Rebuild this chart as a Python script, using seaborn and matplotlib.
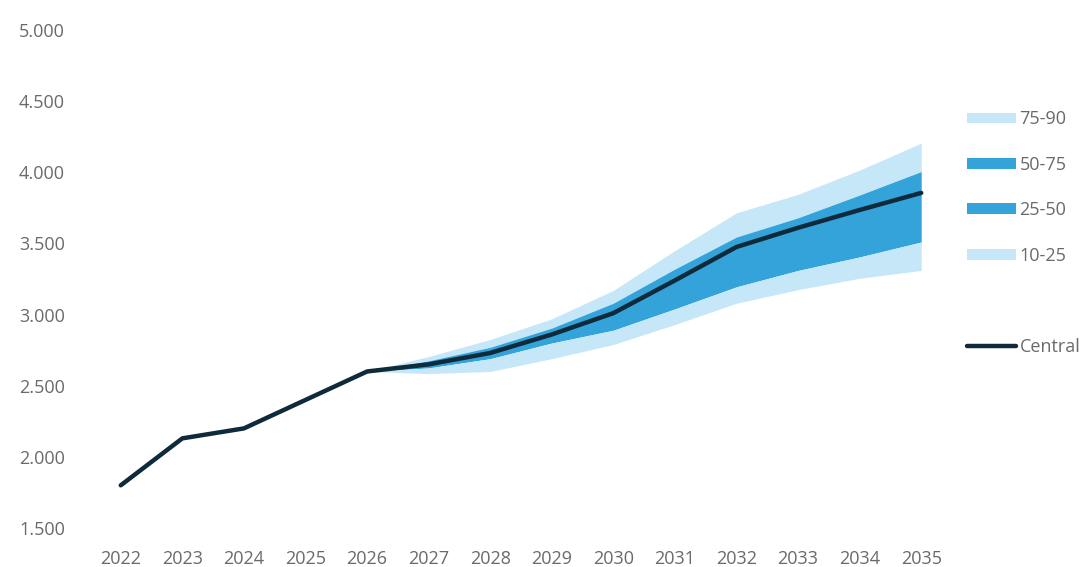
import matplotlib

matplotlib.use("Agg")

import numpy as np
import pandas as pd
import matplotlib.pyplot as plt
import seaborn as sns
from matplotlib.patches import Patch
from matplotlib.lines import Line2D

# ------------------------------------------------------------------
# Data
# ------------------------------------------------------------------
years = [2022, 2023, 2024, 2025, 2026, 2027, 2028,
         2029, 2030, 2031, 2032, 2033, 2034, 2035]
central = [1800, 2130, 2200, 2400, 2600, 2650, 2730,
           2860, 3010, 3240, 3475, 3610, 3735, 3855]

fan_years = [2026, 2027, 2028, 2029, 2030, 2031, 2032, 2033, 2034, 2035]
p10 = [2600, 2585, 2600, 2690, 2790, 2930, 3080, 3175, 3255, 3310]
p25 = [2600, 2625, 2690, 2800, 2890, 3040, 3195, 3310, 3405, 3510]
p75 = [2600, 2675, 2770, 2905, 3080, 3320, 3545, 3680, 3840, 4005]
p90 = [2600, 2705, 2825, 2970, 3170, 3450, 3715, 3845, 4015, 4205]

yticks = [1500, 2000, 2500, 3000, 3500, 4000, 4500, 5000]

LIGHT = "#c6e7f7"
DARK = "#33a3da"
LINE = "#0f2a3b"
TEXT = "#6a6a6a"

sns.set_theme(style="white")
plt.rcParams["font.family"] = ["Open Sans", "DejaVu Sans"]

df = pd.DataFrame({"year": years, "central": central})
fan = pd.DataFrame({"year": fan_years, "p10": p10, "p25": p25,
                    "p75": p75, "p90": p90})

fig = plt.figure(figsize=(10.92, 5.67), dpi=100)
ax = fig.add_axes([0.0824, 0.0688, 0.7894, 0.8783])

# fan bands
ax.fill_between(fan["year"], fan["p75"], fan["p90"], color=LIGHT, lw=0)
ax.fill_between(fan["year"], fan["p25"], fan["p75"], color=DARK, lw=0)
ax.fill_between(fan["year"], fan["p10"], fan["p25"], color=LIGHT, lw=0)

sns.lineplot(data=df, x="year", y="central", ax=ax, color=LINE,
             linewidth=3.2, zorder=5)

ax.set_xlim(2021.5, 2035.5)
ax.set_ylim(1500, 5000)
ax.set_xticks(years)
ax.set_xticklabels([str(y) for y in years])
ax.set_yticks(yticks)
ax.set_yticklabels([f"{v:,}".replace(",", ".") for v in yticks])
ax.set_xlabel("")
ax.set_ylabel("")
for s in ax.spines.values():
    s.set_visible(False)
ax.tick_params(axis="both", length=0, labelsize=13, colors=TEXT)
ax.tick_params(axis="x", pad=16)
ax.tick_params(axis="y", pad=18)

# legend with a blank row before "Central"
handles = [
    Patch(facecolor=LIGHT, edgecolor="none"),
    Patch(facecolor=DARK, edgecolor="none"),
    Patch(facecolor=DARK, edgecolor="none"),
    Patch(facecolor=LIGHT, edgecolor="none"),
    Patch(facecolor="none", edgecolor="none"),
    Line2D([], [], color=LINE, linewidth=3.2),
]
labels = ["75-90", "50-75", "25-50", "10-25", "", "Central"]
leg = fig.legend(handles, labels, loc="upper left",
                 bbox_to_anchor=(0.879, 0.818), frameon=False,
                 fontsize=13, handlelength=2.7, handleheight=0.55,
                 handletextpad=0.2, labelspacing=1.52, borderaxespad=0)
for t in leg.get_texts():
    t.set_color(TEXT)

fig.savefig("out.png", dpi=100)
plt.close("all")
